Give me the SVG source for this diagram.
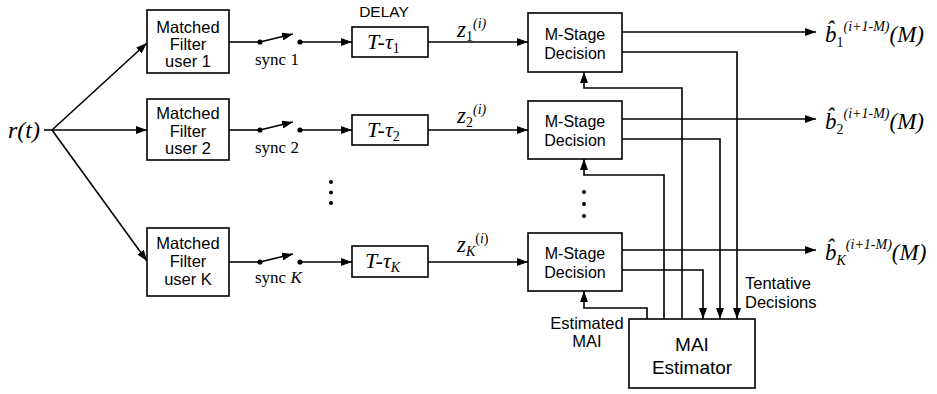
<svg xmlns="http://www.w3.org/2000/svg" width="937" height="394" viewBox="0 0 937 394">
<defs>
<marker id="ah" viewBox="0 0 11 8" refX="11" refY="4" markerWidth="11" markerHeight="8" orient="auto" markerUnits="userSpaceOnUse"><path d="M0,0 L11,4 L0,8 z" fill="#000"/></marker>
<style>
.box{fill:#fff;stroke:#000;stroke-width:1.6}
.ln{fill:none;stroke:#000;stroke-width:1.6}
.sans{font-family:"Liberation Sans",Arial,sans-serif;fill:#000}
.mf{font-size:16.5px;text-anchor:middle}
.ms{font-size:16px;text-anchor:middle}
.lab{font-size:16.5px}
.ser{font-family:"Liberation Serif","Times New Roman",serif;fill:#000}
.it{font-style:italic}
</style>
</defs>
<rect width="937" height="394" fill="#fff"/>

<g id="connectors">
<path class="ln" d="M44,130 H52"/>
<path class="ln" d="M52,130 L147,43" marker-end="url(#ah)"/>
<path class="ln" d="M52,130 H147" marker-end="url(#ah)"/>
<path class="ln" d="M52,130 L147,261" marker-end="url(#ah)"/>

<path class="ln" d="M229,42 H260"/>
<path class="ln" d="M260,42 L293,34" marker-end="url(#ah)"/>
<path class="ln" d="M300,42 H352" marker-end="url(#ah)"/>
<path class="ln" d="M428,42 H528" marker-end="url(#ah)"/>

<path class="ln" d="M229,130 H260"/>
<path class="ln" d="M260,130 L293,122" marker-end="url(#ah)"/>
<path class="ln" d="M300,130 H352" marker-end="url(#ah)"/>
<path class="ln" d="M428,130 H528" marker-end="url(#ah)"/>

<path class="ln" d="M229,262 H260"/>
<path class="ln" d="M260,262 L293,254" marker-end="url(#ah)"/>
<path class="ln" d="M300,262 H352" marker-end="url(#ah)"/>
<path class="ln" d="M428,262 H528" marker-end="url(#ah)"/>

<path class="ln" d="M622,32 H816" marker-end="url(#ah)"/>
<path class="ln" d="M622,119 H816" marker-end="url(#ah)"/>
<path class="ln" d="M622,250 H816" marker-end="url(#ah)"/>

<path class="ln" d="M622,52 H737 V319" marker-end="url(#ah)"/>
<path class="ln" d="M622,139 H720 V319" marker-end="url(#ah)"/>
<path class="ln" d="M622,270 H703 V319" marker-end="url(#ah)"/>

<path class="ln" d="M682,319 V88 H584 V72" marker-end="url(#ah)"/>
<path class="ln" d="M664,319 V175 H584 V159" marker-end="url(#ah)"/>
<path class="ln" d="M647,319 V308 H584 V291" marker-end="url(#ah)"/>

<g fill="#000">
<circle cx="260" cy="42" r="2.6"/><circle cx="300" cy="42" r="2.6"/>
<circle cx="260" cy="130" r="2.6"/><circle cx="300" cy="130" r="2.6"/>
<circle cx="260" cy="262" r="2.6"/><circle cx="300" cy="262" r="2.6"/>
<circle cx="331" cy="182" r="2"/><circle cx="331" cy="192.5" r="2"/><circle cx="331" cy="203" r="2"/>
<circle cx="584" cy="192" r="2"/><circle cx="584" cy="204" r="2"/><circle cx="584" cy="216" r="2"/>
</g>
</g>

<g id="input">
<text class="ser it" x="8" y="138" font-size="24">r(t)</text>
</g>

<g id="mf1">
<rect class="box" x="147" y="10" width="82" height="63"/>
<text class="sans mf" x="188" y="33">Matched</text>
<text class="sans mf" x="188" y="50">Filter</text>
<text class="sans mf" x="188" y="67">user 1</text>
</g>
<g id="mf2">
<rect class="box" x="147" y="99" width="82" height="61"/>
<text class="sans mf" x="188" y="119">Matched</text>
<text class="sans mf" x="188" y="137">Filter</text>
<text class="sans mf" x="188" y="154">user 2</text>
</g>
<g id="mfK">
<rect class="box" x="147" y="228" width="82" height="68"/>
<text class="sans mf" x="188" y="249">Matched</text>
<text class="sans mf" x="188" y="267">Filter</text>
<text class="sans mf" x="188" y="285">user K</text>
</g>

<g id="sync1"><text class="ser" x="255" y="65" font-size="17">sync 1</text></g>
<g id="sync2"><text class="ser" x="255" y="153" font-size="17">sync 2</text></g>
<g id="syncK"><text class="ser" x="255" y="283" font-size="17">sync <tspan font-style="italic">K</tspan></text></g>

<g id="delay-label"><text class="sans" x="384" y="17" font-size="15.5" text-anchor="middle">DELAY</text></g>

<g id="delay1">
<rect class="box" x="352" y="27" width="76" height="30"/>
<text class="ser it" x="367" y="49" font-size="22">T-τ<tspan font-size="14" font-style="normal" dy="4">1</tspan></text>
</g>
<g id="delay2">
<rect class="box" x="352" y="115" width="76" height="30"/>
<text class="ser it" x="367" y="137" font-size="22">T-τ<tspan font-size="14" font-style="normal" dy="4">2</tspan></text>
</g>
<g id="delayK">
<rect class="box" x="352" y="246" width="76" height="31"/>
<text class="ser it" x="365" y="268" font-size="22">T-τ<tspan font-size="14" dy="4">K</tspan></text>
</g>

<g id="z1"><text class="ser it" x="457" y="37" font-size="23">z<tspan font-size="14" font-style="normal" dy="4">1</tspan><tspan font-size="14" dy="-13">(<tspan font-style="italic">i</tspan>)</tspan></text></g>
<g id="z2"><text class="ser it" x="457" y="123" font-size="23">z<tspan font-size="14" font-style="normal" dy="4">2</tspan><tspan font-size="14" dy="-13">(<tspan font-style="italic">i</tspan>)</tspan></text></g>
<g id="zK"><text class="ser it" x="457" y="252" font-size="23">z<tspan font-size="14" dy="4">K</tspan><tspan font-size="14" font-style="normal" dy="-13">(<tspan font-style="italic">i</tspan>)</tspan></text></g>

<g id="dec1">
<rect class="box" x="528" y="13" width="94" height="59"/>
<text class="sans ms" x="575" y="40">M-Stage</text>
<text class="sans ms" x="575" y="59">Decision</text>
</g>
<g id="dec2">
<rect class="box" x="528" y="101" width="94" height="58"/>
<text class="sans ms" x="575" y="127">M-Stage</text>
<text class="sans ms" x="575" y="146">Decision</text>
</g>
<g id="decK">
<rect class="box" x="528" y="233" width="94" height="58"/>
<text class="sans ms" x="575" y="259">M-Stage</text>
<text class="sans ms" x="575" y="278">Decision</text>
</g>

<g id="mai">
<rect class="box" x="629" y="319" width="126" height="69"/>
<text class="sans" x="692" y="351" font-size="19" text-anchor="middle">MAI</text>
<text class="sans" x="692" y="374" font-size="19" text-anchor="middle">Estimator</text>
</g>

<g id="est-label">
<text class="sans lab" x="587" y="329" text-anchor="middle">Estimated</text>
<text class="sans lab" x="587" y="347" text-anchor="middle">MAI</text>
</g>
<g id="tent-label">
<text class="sans lab" x="745" y="289">Tentative</text>
<text class="sans lab" x="745" y="308">Decisions</text>
</g>

<g id="out1"><text class="ser it" x="825" y="42" font-size="23">b̂<tspan font-size="14" font-style="normal" dy="5">1</tspan><tspan font-size="14" dy="-16">(<tspan font-style="italic">i</tspan>+1-<tspan font-style="italic">M</tspan>)</tspan><tspan dy="11">(M)</tspan></text></g>
<g id="out2"><text class="ser it" x="825" y="129" font-size="23">b̂<tspan font-size="14" font-style="normal" dy="5">2</tspan><tspan font-size="14" dy="-16">(<tspan font-style="italic">i</tspan>+1-<tspan font-style="italic">M</tspan>)</tspan><tspan dy="11">(M)</tspan></text></g>
<g id="outK"><text class="ser it" x="825" y="260" font-size="23">b̂<tspan font-size="14" dy="5">K</tspan><tspan font-size="14" dy="-16">(<tspan font-style="italic">i</tspan>+1-<tspan font-style="italic">M</tspan>)</tspan><tspan dy="11">(M)</tspan></text></g>
</svg>
